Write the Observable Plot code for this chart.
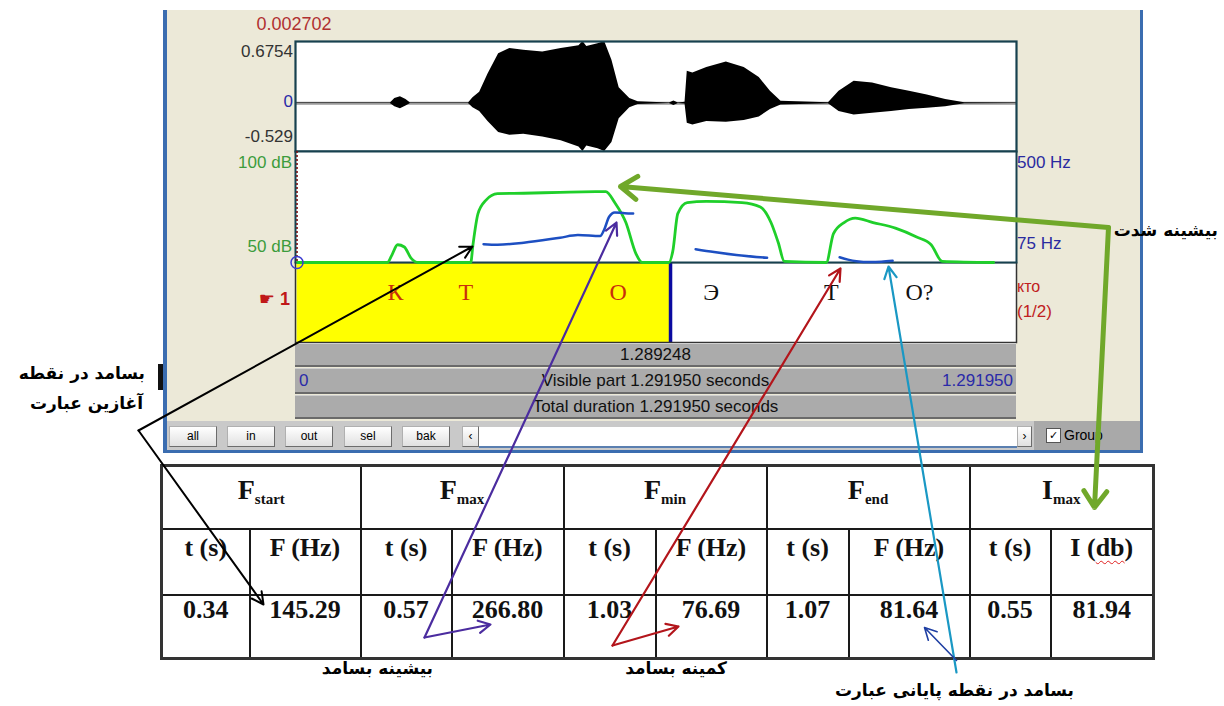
<!DOCTYPE html>
<html>
<head>
<meta charset="utf-8">
<script src="https://cdn.jsdelivr.net/npm/d3@7"></script>
<script src="https://cdn.jsdelivr.net/npm/@observablehq/plot@0.6"></script>
<style>
html,body{margin:0;padding:0;background:#fff;}
#root{position:relative;width:1224px;height:706px;overflow:hidden;font-family:"Liberation Sans",Arial,sans-serif;}
#root svg{overflow:visible;}
.a{position:absolute;white-space:nowrap;font-size:17px;line-height:20px;}
.bar{position:absolute;background:#ababab;border-top:1px solid #cfcfcf;border-bottom:2px solid #6a6a6a;box-sizing:border-box;font-size:17px;line-height:21px;text-align:center;color:#111;}
.btn{position:absolute;top:426px;height:21px;box-sizing:border-box;background:linear-gradient(#ffffff,#e0e0e0);border:1px solid #b0b0b0;border-right-color:#6c6c6c;border-bottom-color:#6c6c6c;font-size:12px;line-height:19px;text-align:center;color:#000;}
.fa{position:absolute;direction:rtl;font-family:"DejaVu Sans",sans-serif;font-weight:bold;font-size:17px;line-height:22px;color:#000;white-space:nowrap;}
table.t{position:absolute;left:160px;top:464px;width:992px;table-layout:fixed;border-collapse:collapse;font-family:"Liberation Serif","Times New Roman",serif;font-weight:bold;color:#111;border:3px solid #333;}
table.t td{border:2px solid #1a1a1a;text-align:center;vertical-align:top;padding:0;font-size:26px;line-height:28px;}
table.t td.h{padding-top:9px;}
table.t td.sh{padding-top:4px;}
table.t td.v{padding-top:0px;}
table.t .m{font-size:28px;}
table.t .s{font-size:15px;position:relative;top:5px;}
table.t .w{text-decoration:underline wavy #e02020;text-decoration-thickness:1px;text-underline-offset:4px;}
</style>
</head>
<body>
<div id="root"></div>
<script>
// ---------------- data ----------------
const duration = 1.29195;
const cursorTime = 0.002702;
const selectionLabel = "1.289248";
const visibleLabel = "Visible part 1.291950 seconds";
const totalLabel = "Total duration 1.291950 seconds";
const endTimeLabel = "1.291950";

const ampMax = 0.6754, ampMin = -0.529;
// waveform envelope
const waveTimes = [0,0.17,0.178,0.188,0.198,0.206,0.31,0.318,0.33,0.345,0.364,0.384,0.409,0.443,0.476,0.508,0.515,0.522,0.542,0.554,0.567,0.58,0.599,0.614,0.67,0.678,0.686,0.698,0.702,0.712,0.737,0.772,0.804,0.831,0.851,0.87,0.955,0.974,1.001,1.034,1.068,1.1,1.132,1.165,1.199,1.29195];
const waveUpper = [0.003,0.003,0.05,0.07,0.04,0.003,0.003,0.06,0.12,0.32,0.54,0.6,0.58,0.56,0.6,0.63,0.675,0.62,0.65,0.675,0.47,0.17,0.05,0.015,0.003,0.025,0.003,0.01,0.35,0.33,0.39,0.45,0.39,0.28,0.13,0.02,0.005,0.13,0.24,0.22,0.17,0.13,0.09,0.04,0.006,0.003];
const waveLower = [-0.003,-0.003,-0.04,-0.06,-0.03,-0.003,-0.003,-0.05,-0.09,-0.2,-0.32,-0.35,-0.34,-0.37,-0.41,-0.48,-0.529,-0.47,-0.5,-0.529,-0.43,-0.17,-0.05,-0.015,-0.003,-0.025,-0.003,-0.01,-0.22,-0.24,-0.2,-0.21,-0.19,-0.15,-0.07,-0.02,-0.005,-0.09,-0.13,-0.11,-0.09,-0.07,-0.055,-0.04,-0.006,-0.003];

const dbMax = 100, dbMin = 50;
const intensityTimes = [0.004,0.165,0.172,0.183,0.195,0.207,0.22,0.314,0.318,0.327,0.341,0.362,0.409,0.474,0.538,0.556,0.572,0.592,0.61,0.621,0.669,0.676,0.685,0.702,0.736,0.8,0.833,0.852,0.865,0.876,0.951,0.964,0.983,1.003,1.035,1.075,1.113,1.139,1.159,1.251];
const intensityDb = [50,50,53,58,57,52,50,50,58,72,78,81,81.2,81.6,81.9,81.94,77,68,54,50,50,55,72,77,77.5,77,75,68,59,50.5,50,63,68,70,68,65.5,61.5,58,50.5,50];

const hzMax = 500, hzMin = 75;
const pitchTimes = [0.337,0.362,0.409,0.474,0.506,0.546,0.553,0.562,0.572,0.59,0.605, 0.717,0.75,0.79,0.845, 0.975,0.99,1.005,1.03,1.05,1.07];
const pitchHz    = [145.29,143,151,170,180,176,200,250,266.8,264,263, 126,115,104,93, 95,86,80,76.69,78,81.64];
const pitchSeg   = [1,1,1,1,1,1,1,1,1,1,1, 2,2,2,2, 3,3,3,3,3,3];

const tierBoundary = 0.672;
const tierLabels = ["К","Т","О","Э","Т","О?"];
const tierLabelTimes = [0.179,0.305,0.578,0.745,0.96,1.118];
const tierLabelInterval = [0,0,0,1,1,1];
const tierName = "кто";
const tierCount = "(1/2)";

const tableGroups = [["F","start"],["F","max"],["F","min"],["F","end"],["I","max"]];
const tableSubHeaders = ["t (s)","F (Hz)","t (s)","F (Hz)","t (s)","F (Hz)","t (s)","F (Hz)","t (s)","I (db)"];
const tableValues = ["0.34","145.29","0.57","266.80","1.03","76.69","1.07","81.64","0.55","81.94"];

const faLabels = ["بسامد در نقطه","آغازین عبارت","بیشینه بسامد","کمینه بسامد","بسامد در نقطه پایانی عبارت","بیشینه شدت"];
const buttons = ["all","in","out","sel","bak"];

// ---------------- layout ----------------
const root = document.getElementById("root");
const paneLeft = 295, paneWidth = 721;
function put(el, left, top){ el.style.position="absolute"; el.style.left=left+"px"; el.style.top=top+"px"; root.appendChild(el); return el; }
function div(cls, html, css){ const d=document.createElement("div"); if(cls) d.className=cls; d.innerHTML=html; Object.assign(d.style, css||{}); root.appendChild(d); return d; }

// Praat window background
div("", "", {position:"absolute",left:"163px",top:"10px",width:"980px",height:"443px",background:"#ece9d8",borderLeft:"4px solid #3b6db0",borderRight:"3px solid #3b6db0",borderBottom:"3px solid #3b6db0",boxSizing:"border-box"});

// left labels
div("a", String(cursorTime), {left:"252px",top:"14px",color:"#b03030",width:"84px",textAlign:"center",fontSize:"18px"});
div("a", String(ampMax), {right:(1224-293)+"px",top:"42px",color:"#333"});
div("a", "0", {right:(1224-293)+"px",top:"92px",color:"#2a2aa8"});
div("a", String(ampMin), {right:(1224-293)+"px",top:"127px",color:"#333"});
div("a", dbMax+" dB", {right:(1224-292)+"px",top:"153px",color:"#3c9c3c"});
div("a", dbMin+" dB", {right:(1224-292)+"px",top:"237px",color:"#3c9c3c"});
div("a", '<span style="font-family:DejaVu Sans">☛</span> <b>1</b>', {right:(1224-290)+"px",top:"289px",color:"#c01818",fontSize:"18px"});
// right labels
div("a", hzMax+" Hz", {left:"1017px",top:"153px",color:"#2a2aa0"});
div("a", hzMin+" Hz", {left:"1017px",top:"234px",color:"#2a2aa0"});
div("a", tierName, {left:"1017px",top:"277px",color:"#c02020",fontSize:"16px"});
div("a", tierCount, {left:"1017px",top:"302px",color:"#c02020"});

// tier plot
const tierData = tierLabels.map((label,i)=>({label, t: tierLabelTimes[i], iv: tierLabelInterval[i]}));
put(Plot.plot({
  width: paneWidth, height: 80, margin: 0,
  x: {domain:[0,duration], axis:null},
  style: {background:"white", overflow:"visible"},
  marks: [
    Plot.rect([{a:cursorTime,b:tierBoundary}], {x1:"a", x2:"b", fill:"#ffff00"}),
    Plot.ruleX([tierBoundary], {stroke:"#0a0aa0", strokeWidth:3.5}),
    Plot.text(tierData.filter(d=>d.iv===0), {x:"t", text:"label", frameAnchor:"top", dy:20, fontSize:24, fontFamily:"Liberation Serif", fill:"#c8300c"}),
    Plot.text(tierData.filter(d=>d.iv===1), {x:"t", text:"label", frameAnchor:"top", dy:20, fontSize:24, fontFamily:"Liberation Serif", fill:"#111"}),
    Plot.frame({stroke:"#333", strokeWidth:1.5})
  ]
}), paneLeft, 262);

// waveform plot
const wave = waveTimes.map((t,i)=>({t, hi: waveUpper[i], lo: waveLower[i]}));
put(Plot.plot({
  width: paneWidth, height: 110, margin: 0,
  x: {domain:[0,duration], axis:null},
  y: {domain:[ampMin, ampMax], axis:null},
  style: {background:"white", overflow:"visible"},
  marks: [
    Plot.ruleY([0], {stroke:"#9a9a9a", strokeWidth:3}),
    Plot.areaY(wave, {x:"t", y1:"lo", y2:"hi", fill:"#000"}),
    Plot.frame({stroke:"#17414f", strokeWidth:2.2})
  ]
}), paneLeft, 41);

// intensity plot
const intensity = intensityTimes.map((t,i)=>({t, db: intensityDb[i]}));
put(Plot.plot({
  width: paneWidth, height: 111, margin: 0,
  x: {domain:[0,duration], axis:null},
  y: {domain:[dbMin, dbMax], axis:null},
  style: {background:"white", overflow:"visible"},
  marks: [
    Plot.frame({stroke:"#17414f", strokeWidth:2}),
    Plot.ruleX([cursorTime], {stroke:"#7a1010", strokeWidth:1.6, strokeDasharray:"2,2"}),
    Plot.line(intensity, {x:"t", y:"db", stroke:"#1fcf2a", strokeWidth:2.8, curve:"monotone-x"})
  ]
}), paneLeft, 151);

// pitch plot (own scale, overlaid)
const pitch = pitchTimes.map((t,i)=>({t, hz: pitchHz[i], seg: pitchSeg[i]}));
put(Plot.plot({
  width: paneWidth, height: 111, margin: 0,
  x: {domain:[0,duration], axis:null},
  y: {domain:[hzMin, hzMax], axis:null},
  style: {background:"transparent", overflow:"visible"},
  marks: [
    Plot.line(pitch, {x:"t", y:"hz", z:"seg", stroke:"#1d4fc2", strokeWidth:2.5, curve:"monotone-x"}),
    Plot.dot([cursorTime], {x: d=>d, frameAnchor:"bottom", r:6, stroke:"#3a3ad0", strokeWidth:1.5, fill:"none"})
  ]
}), paneLeft, 151);

// info bars
div("bar", selectionLabel, {left:"295px",top:"343px",width:"721px",height:"24px"});
const b2 = div("bar", visibleLabel, {left:"295px",top:"368px",width:"721px",height:"26px",lineHeight:"24px"});
b2.innerHTML = `<span style="position:absolute;left:4px;color:#2a2aa8">0</span>${visibleLabel}<span style="position:absolute;right:3px;color:#2a2aa8">${endTimeLabel}</span>`;
div("bar", totalLabel, {left:"295px",top:"395px",width:"721px",height:"24px"});

// button row
div("", "", {position:"absolute",left:"167px",top:"421px",width:"973px",height:"29px",background:"#c9c9c9"});
div("", "", {position:"absolute",left:"1034px",top:"421px",width:"106px",height:"29px",background:"#a9a9a9"});
const btnX = [169,227,285,344,402];
buttons.forEach((b,i)=>div("btn", b, {left:btnX[i]+"px",width:"48px"}));
div("btn", "‹", {left:"462px",width:"17px"});
div("", "", {position:"absolute",left:"479px",top:"427px",width:"538px",height:"19px",background:"#fff",borderBottom:"2px solid #5a7fb0"});
div("btn", "›", {left:"1017px",width:"15px"});
div("", "✓", {position:"absolute",left:"1046px",top:"428px",width:"13px",height:"13px",background:"#fff",border:"1px solid #555",fontSize:"11px",lineHeight:"13px",textAlign:"center"});
div("a", "Group", {left:"1064px",top:"425px",fontSize:"14px"});

// table
const colW=[88,111,91,112,92,111,82,121,81,103];
let th = '<colgroup>'+colW.map(w=>`<col style="width:${w}px">`).join('')+'</colgroup>';
th += '<tr style="height:63px">'+tableGroups.map(([m,s])=>`<td colspan="2" class="h"><span class="m">${m}</span><span class="s">${s}</span></td>`).join('')+'</tr>';
th += '<tr style="height:66px">'+tableSubHeaders.map(s=>`<td class="sh">${s.replace("(db)","(<span class=\"w\">db</span>)")}</td>`).join('')+'</tr>';
th += '<tr style="height:64px">'+tableValues.map(v=>`<td class="v">${v}</td>`).join('')+'</tr>';
const tbl = document.createElement("table"); tbl.className="t"; tbl.innerHTML=th; root.appendChild(tbl);

// Persian labels
function fa(text, right, cy){ return div("fa", text, {right:(1224-right)+"px", top:(cy-11)+"px"}); }
fa(faLabels[0], 145, 373);
fa(faLabels[1], 143, 403);
fa(faLabels[2], 433, 668);
fa(faLabels[3], 727, 668);
fa(faLabels[4], 1074, 690);
fa(faLabels[5], 1218, 230);
div("", "", {position:"absolute",left:"158px",top:"364px",width:"5px",height:"26px",background:"#111"});

// annotation arrows (overlay in page pixels)
const thinArrows = [
 {x1:138,y1:430,x2:472,y2:246,c:"#000000",w:2},
 {x1:138,y1:430,x2:263,y2:604,c:"#000000",w:2},
 {x1:424,y1:637,x2:616,y2:222,c:"#4b2c9f",w:2.2},
 {x1:424,y1:637,x2:490,y2:624,c:"#4b2c9f",w:2.2},
 {x1:612,y1:645,x2:840,y2:268,c:"#b3151b",w:2.2},
 {x1:612,y1:645,x2:678,y2:626,c:"#b3151b",w:2.2},
 {x1:956,y1:672,x2:888,y2:266,c:"#1a98c4",w:2.2},
 {x1:956,y1:660,x2:924,y2:627,c:"#1f3fa3",w:1.6}
];
const greenArrows = [
 {x1:1108,y1:227,x2:620,y2:186,c:"#70a82a",w:5},
 {x1:1108,y1:227,x2:1094,y2:507,c:"#70a82a",w:5}
];
const overlay = Plot.plot({
  width:1224, height:706, margin:0,
  x:{domain:[0,1224], range:[0,1224], axis:null},
  y:{domain:[0,706], range:[0,706], axis:null},
  color:{type:"identity"},
  style:{background:"transparent", overflow:"visible", pointerEvents:"none"},
  marks:[
    Plot.arrow(thinArrows, {x1:"x1",y1:"y1",x2:"x2",y2:"y2",stroke:"c",strokeWidth:"w",headLength:20,headAngle:55}),
    Plot.arrow(greenArrows, {x1:"x1",y1:"y1",x2:"x2",y2:"y2",stroke:"c",strokeWidth:"w",headLength:30,headAngle:70})
  ]
});
put(overlay, 0, 0);
</script>
</body>
</html>
